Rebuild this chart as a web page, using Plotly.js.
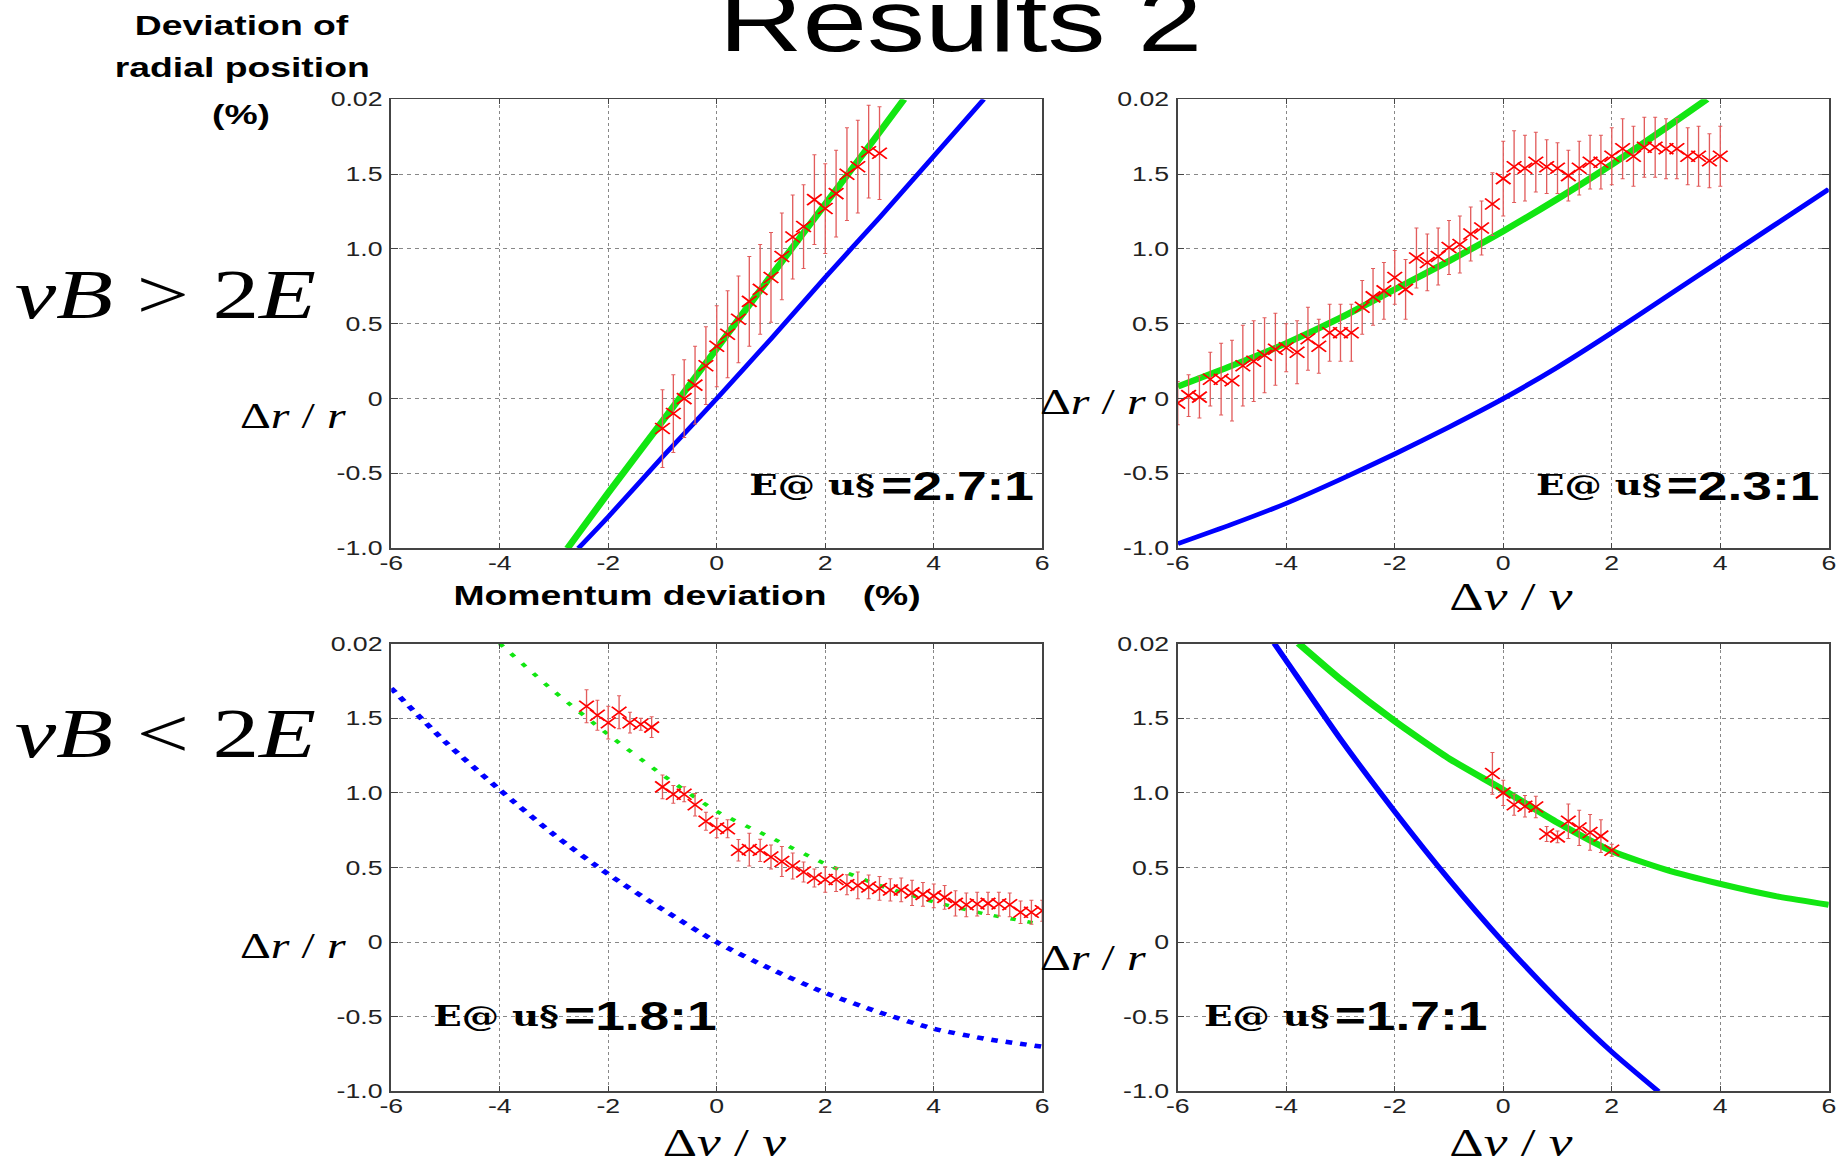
<!DOCTYPE html>
<html>
<head>
<meta charset="utf-8">
<script src="https://cdn.plot.ly/plotly-3.0.1.min.js"></script>
<style>
html,body{margin:0;padding:0;overflow:hidden;background:#fff}
#wrap{width:1848px;height:1166px;overflow:hidden;position:relative}
#chart{width:1386px;height:1166px;transform:scale(1.3333333,1);transform-origin:0 0}
</style>
</head>
<body>
<div id="wrap"><div id="chart"></div></div>
<script>
// ---------- tick labels ----------
const xTickVals = [-6,-4,-2,0,2,4,6];
const xTickText = ['-6','-4','-2','0','2','4','6'];
const yTickVals = [-1,-0.5,0,0.5,1,1.5,2];
const yTickText = ['-1.0','-0.5','0','0.5','1.0','1.5','0.02'];

// ---------- top-left: vB > 2E, ratio 2.7:1 ----------
const tl_x   = [-1.0,-0.8,-0.6,-0.4,-0.2,0.0,0.2,0.4,0.6,0.8,1.0,1.2,1.4,1.6,1.8,2.0,2.2,2.4,2.6,2.8,3.0];
const tl_y   = [-0.20,-0.10,0.00,0.09,0.22,0.35,0.43,0.53,0.65,0.73,0.81,0.95,1.08,1.15,1.33,1.27,1.37,1.50,1.55,1.65,1.64];
const tl_err = [0.26,0.26,0.26,0.26,0.26,0.27,0.29,0.29,0.30,0.30,0.30,0.29,0.28,0.28,0.30,0.30,0.29,0.31,0.31,0.31,0.31];
const tl_green_x = [-2.75,-2,-1,0,1,2,3,3.45];
const tl_green_y = [-1.0,-0.63,-0.15,0.335,0.82,1.30,1.78,2.0];
const tl_blue_x  = [-2.55,-2,-1,0,1,2,3,4,4.92];
const tl_blue_y  = [-1.0,-0.79,-0.39,0,0.40,0.81,1.21,1.62,2.0];

// ---------- top-right: vB > 2E, ratio 2.3:1 ----------
const tr_x = [-6,-5.8,-5.6,-5.4,-5.2,-5,-4.8,-4.6,-4.4,-4.2,-4,-3.8,-3.6,-3.4,-3.2,-3,-2.8,-2.6,-2.4,-2.2,-2,-1.8,-1.6,-1.4,-1.2,-1,-0.8,-0.6,-0.4,-0.2,0,0.2,0.4,0.6,0.8,1,1.2,1.4,1.6,1.8,2,2.2,2.4,2.6,2.8,3,3.2,3.4,3.6,3.8,4];
const tr_y = [-0.03,0.02,0.01,0.13,0.13,0.12,0.22,0.25,0.29,0.33,0.34,0.31,0.40,0.35,0.44,0.44,0.44,0.61,0.68,0.72,0.81,0.73,0.94,0.91,0.95,1.01,1.03,1.10,1.14,1.30,1.47,1.55,1.54,1.58,1.55,1.54,1.49,1.54,1.58,1.58,1.62,1.67,1.62,1.68,1.68,1.67,1.67,1.62,1.62,1.59,1.62];
const tr_err = [0.145,0.14,0.14,0.18,0.24,0.27,0.27,0.27,0.25,0.24,0.16,0.21,0.21,0.18,0.19,0.19,0.19,0.18,0.19,0.19,0.18,0.20,0.20,0.19,0.19,0.18,0.19,0.18,0.18,0.21,0.25,0.24,0.22,0.20,0.18,0.17,0.17,0.18,0.18,0.18,0.19,0.20,0.20,0.20,0.20,0.20,0.20,0.19,0.20,0.18,0.20];
const tr_green_x = [-6,-5,-4,-3,-2,-1,0,1,2,3,3.75];
const tr_green_y = [0.08,0.22,0.37,0.54,0.73,0.92,1.12,1.335,1.565,1.81,2.0];
const tr_blue_x  = [-6,-5,-4,-3,-2,-1,0,1,2,3,4,5,6];
const tr_blue_y  = [-0.97,-0.84,-0.70,-0.54,-0.37,-0.19,0,0.21,0.44,0.68,0.92,1.16,1.40];

// ---------- bottom-left: vB < 2E, ratio 1.8:1 ----------
const bl_x = [-2.4,-2.2,-2,-1.8,-1.6,-1.4,-1.2,-1,-0.8,-0.6,-0.4,-0.2,0,0.2,0.4,0.6,0.8,1,1.2,1.4,1.6,1.8,2,2.2,2.4,2.6,2.8,3,3.2,3.4,3.6,3.8,4,4.2,4.4,4.6,4.8,5,5.2,5.4,5.6,5.8,6];
const bl_y = [1.58,1.52,1.47,1.54,1.47,1.46,1.44,1.04,0.99,0.99,0.92,0.81,0.765,0.76,0.615,0.62,0.615,0.57,0.54,0.51,0.47,0.43,0.42,0.42,0.385,0.38,0.37,0.36,0.35,0.35,0.33,0.32,0.31,0.30,0.26,0.25,0.255,0.26,0.255,0.25,0.20,0.20,0.21];
const bl_err = [0.11,0.10,0.11,0.11,0.07,0.04,0.07,0.08,0.06,0.05,0.075,0.06,0.065,0.06,0.072,0.11,0.075,0.08,0.10,0.087,0.067,0.06,0.085,0.08,0.067,0.09,0.08,0.08,0.075,0.08,0.085,0.08,0.08,0.08,0.085,0.08,0.08,0.075,0.08,0.08,0.075,0.08,0.07];
const bl_green_x = [-4,-3,-2,-1,0,1,2,3,4,5,6];
const bl_green_y = [2.0,1.68,1.39,1.12,0.876,0.70,0.525,0.38,0.27,0.185,0.12];
const bl_blue_x  = [-6,-5,-4,-3,-2,-1,0,1,2,3,4,5,6];
const bl_blue_y  = [1.70,1.34,1.02,0.72,0.455,0.22,0,-0.18,-0.34,-0.47,-0.58,-0.65,-0.70];

// ---------- bottom-right: vB < 2E, ratio 1.7:1 ----------
const br_x   = [-0.2,0,0.2,0.4,0.6,0.8,1.0,1.2,1.4,1.6,1.8,2.0];
const br_y   = [1.13,1.00,0.92,0.91,0.905,0.725,0.705,0.81,0.765,0.735,0.71,0.615];
const br_err = [0.14,0.085,0.07,0.072,0.072,0.05,0.04,0.115,0.118,0.12,0.11,0.04];
const br_green_x = [-3.77,-3,-2,-1,0,1,2,3,4,5,6];
const br_green_y = [2.0,1.76,1.48,1.23,1.02,0.80,0.61,0.485,0.39,0.31,0.25];
const br_blue_x  = [-4.22,-4,-3,-2,-1,0,1,2,2.86];
const br_blue_y  = [2.0,1.885,1.36,0.875,0.42,0.0,-0.385,-0.735,-1.0];

// ---------- text ----------
const ratioLabels = ['=2.7:1','=2.3:1','=1.8:1','=1.7:1'];
const garbled = 'E@ u§';

// ---------- build ----------
const SANS = 'Liberation Sans, Arial, sans-serif';
const SERIF = 'Liberation Serif, Times New Roman, serif';
const SLAB = 'DejaVu Serif, serif';
const RED = '#ff0000', GREEN = '#12e612', BLUE = '#0000ff';

function lineTrace(x, y, ax, color, width, dash){
  return {type:'scatter', mode:'lines', x:x, y:y, xaxis:'x'+ax, yaxis:'y'+ax,
    line:{color:color, width:width, dash:dash||'solid', shape:'spline', smoothing:0.6},
    hoverinfo:'skip', showlegend:false};
}
function errTrace(x, y, err, ax){
  return {type:'scatter', mode:'markers', x:x, y:y, xaxis:'x'+ax, yaxis:'y'+ax,
    marker:{symbol:'x-thin', size:11, color:RED, line:{color:RED, width:1.5}},
    error_y:{type:'data', array:err, visible:true, color:'#e25c5c', thickness:1, width:1.5},
    hoverinfo:'skip', showlegend:false};
}

const data = [
  lineTrace(tl_blue_x, tl_blue_y, '', BLUE, 4),
  lineTrace(tl_green_x, tl_green_y, '', GREEN, 5.5),
  errTrace(tl_x, tl_y, tl_err, ''),
  lineTrace(tr_blue_x, tr_blue_y, '2', BLUE, 4.5),
  lineTrace(tr_green_x, tr_green_y, '2', GREEN, 6),
  errTrace(tr_x, tr_y, tr_err, '2'),
  lineTrace(bl_blue_x, bl_blue_y, '3', BLUE, 4.5, '5px,6px'),
  lineTrace(bl_green_x, bl_green_y, '3', GREEN, 3.5, '4px,9px'),
  errTrace(bl_x, bl_y, bl_err, '3'),
  lineTrace(br_blue_x, br_blue_y, '4', BLUE, 4.5),
  lineTrace(br_green_x, br_green_y, '4', GREEN, 6),
  errTrace(br_x, br_y, br_err, '4')
];

const common = {showgrid:true, gridcolor:'#888', griddash:'dot', gridwidth:1,
  showline:true, mirror:'ticks', linecolor:'#444', linewidth:1.5,
  ticks:'inside', ticklen:5, tickwidth:1, tickcolor:'#444', zeroline:false,
  tickfont:{family:SANS, size:20, color:'#222'}, fixedrange:true, automargin:false};

function xAx(domain, anchor){
  return Object.assign({}, common, {domain:domain, anchor:anchor, range:[-6,6],
    tickmode:'array', tickvals:xTickVals, ticktext:xTickText, ticklabelstandoff:-4});
}
function yAx(domain, anchor){
  return Object.assign({}, common, {domain:domain, anchor:anchor, range:[-1,2],
    tickmode:'array', tickvals:yTickVals, ticktext:yTickText, ticklabelstandoff:1});
}

const XL = [0.2117, 0.5640], XR = [0.6373, 0.9896];
const YT = [0.5298, 0.9148], YB = [0.0639, 0.4481];

function ann(text, x, y, family, size, xanchor){
  return {text:text, x:x, y:y, xref:'paper', yref:'paper', showarrow:false,
    xanchor:xanchor||'center', yanchor:'middle', font:{family:family, size:size, color:'#000'}};
}

const annotations = [
  ann('<b>Deviation of</b>', 0.1307, 0.9781, SANS, 28),
  ann('<b>radial position</b>', 0.1307, 0.9420, SANS, 28),
  ann('<b>(%)</b>', 0.1307, 0.9015, SANS, 28),
  ann('<b>Momentum deviation</b>', 0.3463, 0.4896, SANS, 28),
  ann('<b>(%)</b>', 0.4824, 0.4896, SANS, 28),
  ann('<i>vB</i> &gt; 2<i>E</i>', 0.0893, 0.7475, SERIF, 70),
  ann('<i>vB</i> &lt; 2<i>E</i>', 0.0893, 0.3713, SERIF, 70),
  ann('Δ<i>r</i> / <i>r</i>', 0.1585, 0.6433, SERIF, 36),
  ann('Δ<i>r</i> / <i>r</i>', 0.1585, 0.1888, SERIF, 36),
  ann('Δ<i>r</i> / <i>r</i>', 0.5915, 0.6553, SERIF, 36),
  ann('Δ<i>r</i> / <i>r</i>', 0.5915, 0.1785, SERIF, 36),
  ann('Δ<i>v</i> / <i>v</i>', 0.8176, 0.4880, SERIF, 40),
  ann('Δ<i>v</i> / <i>v</i>', 0.3922, 0.0200, SERIF, 40),
  ann('Δ<i>v</i> / <i>v</i>', 0.8176, 0.0200, SERIF, 40),
  ann('<b>'+garbled+'</b>', 0.4394, 0.5832, SLAB, 28),
  ann('<b>'+garbled+'</b>', 0.8649, 0.5832, SLAB, 28),
  ann('<b>'+garbled+'</b>', 0.2684, 0.1286, SLAB, 28),
  ann('<b>'+garbled+'</b>', 0.6851, 0.1286, SLAB, 28),
  ann('<b>'+ratioLabels[0]+'</b>', 0.5184, 0.5832, SANS, 40),
  ann('<b>'+ratioLabels[1]+'</b>', 0.9434, 0.5832, SANS, 40),
  ann('<b>'+ratioLabels[2]+'</b>', 0.3466, 0.1286, SANS, 40),
  ann('<b>'+ratioLabels[3]+'</b>', 0.7638, 0.1286, SANS, 40)
];

const layout = {
  width:1386, height:1166,
  margin:{l:0, r:0, t:0, b:0, pad:0},
  paper_bgcolor:'#fff', plot_bgcolor:'#fff',
  showlegend:false,
  title:{text:'Results 2', font:{family:SANS, size:87, color:'#000'},
    x:0.5198, xanchor:'center', xref:'paper', y:0.9827, yanchor:'middle', yref:'container'},
  xaxis:xAx(XL,'y'),  yaxis:yAx(YT,'x'),
  xaxis2:xAx(XR,'y2'), yaxis2:yAx(YT,'x2'),
  xaxis3:xAx(XL,'y3'), yaxis3:yAx(YB,'x3'),
  xaxis4:xAx(XR,'y4'), yaxis4:yAx(YB,'x4'),
  annotations:annotations
};

Plotly.newPlot('chart', data, layout, {staticPlot:true, displayModeBar:false});
</script>
</body>
</html>
